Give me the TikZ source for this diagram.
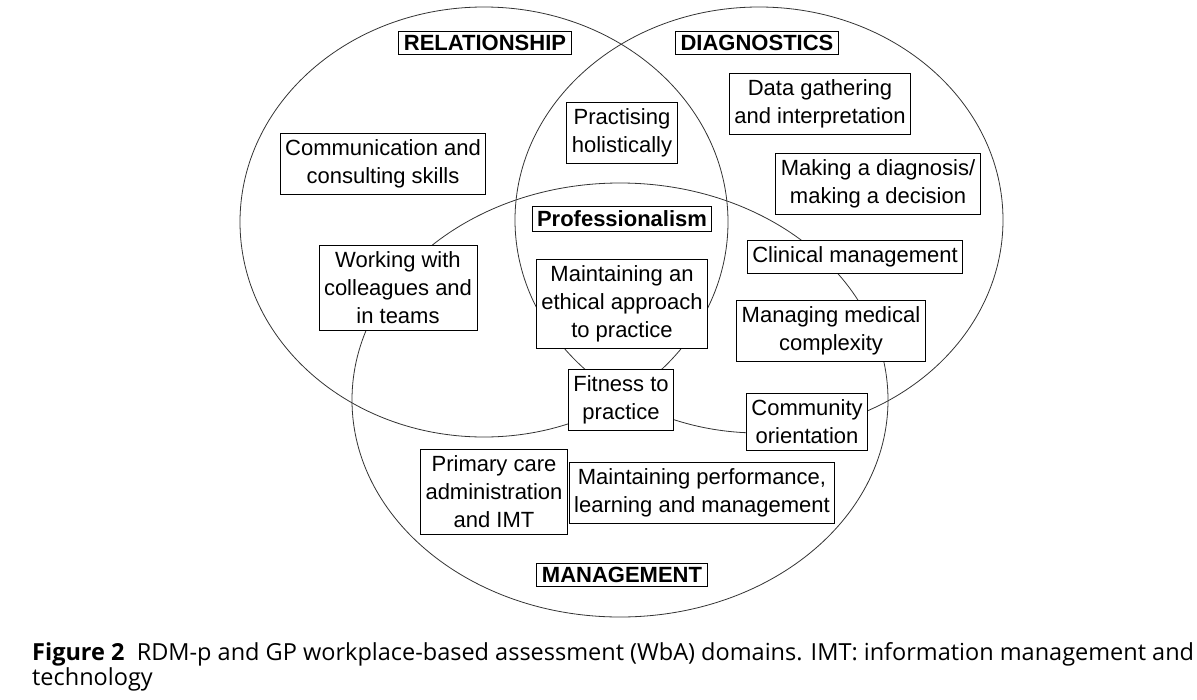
\documentclass[tikz,border=0pt]{standalone}
\usepackage{fontspec}
\setmainfont{Liberation Sans}
\newfontfamily\capfont{Open Sans}
\tikzset{>=stealth}
\tikzset{
  ring/.style={line width=0.8pt,draw=black!80},
  box/.style={draw,line width=1pt,fill=white,align=center,inner xsep=5pt,inner ysep=6pt,
    font=\fontsize{22}{28}\selectfont},
  head/.style={box,inner ysep=4pt,font=\fontsize{22}{28}\selectfont\bfseries}
}

\begin{document}
\begin{tikzpicture}[x=1pt,y=-1pt]
\useasboundingbox (0,0) rectangle (1197,699);
% the three domains
\draw[ring] (484,222) ellipse [x radius=244pt, y radius=215pt];
\draw[ring] (759,220) ellipse [x radius=244pt, y radius=213pt];
\draw[ring] (620,400) ellipse [x radius=268pt, y radius=217pt];
% headings
\node[head] (rel) at (485,43) {RELATIONSHIP};
\node[head] (dia) at (757,43) {DIAGNOSTICS};
\node[head] (man) at (622,575) {MANAGEMENT};
\node[head] (pro) at (622,219) {Professionalism};
% competences
\node[box] (data) at (820,104) {Data gathering\\and interpretation};
\node[box] (comm) at (383,164) {Communication and\\consulting skills};
\node[box] (holi) at (622,133) {Practising\\holistically};
\node[box] (diag) at (878,184) {Making a diagnosis/\\making a decision};
\node[box] (clin) at (855,257) {Clinical management};
\node[box] (team) at (398,288) {Working with\\colleagues and\\in teams};
\node[box] (ethi) at (622,304) {Maintaining an\\ethical approach\\to practice};
\node[box] (cplx) at (831,331) {Managing medical\\complexity};
\node[box] (fit) at (621,400) {Fitness to\\practice};
\node[box] (comy) at (807,422) {Community\\orientation};
\node[box] (admi) at (494,492) {Primary care\\administration\\and IMT};
\node[box] (perf) at (702,493) {Maintaining performance,\\learning and management};
% caption (base = last line)
\node[anchor=base west,align=left,inner sep=0pt,font=\capfont\fontsize{23.5}{25}\selectfont]
  (cap) at (32,685) {\textbf{Figure 2}\ \ RDM-p and GP workplace-based assessment (WbA) domains. IMT: information management and\\technology};
\end{tikzpicture}
\end{document}
